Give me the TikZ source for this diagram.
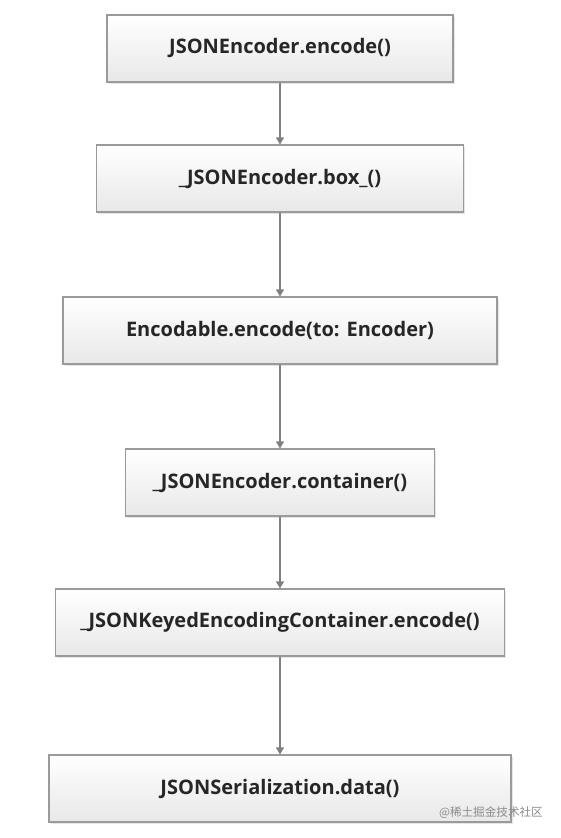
\documentclass[tikz,border=0pt]{standalone}
\usepackage{fontspec}
\setmainfont{Open Sans}
\newfontfamily\cjk{Noto Sans CJK SC}
\usetikzlibrary{arrows.meta,shadows}
\definecolor{bordergray}{HTML}{9A9A9A}
\definecolor{arrowgray}{HTML}{808080}
\begin{document}
\begin{tikzpicture}[x=1pt,y=-1pt,
  flowbox/.style={draw=bordergray,line width=1.2pt,top color=white,bottom color=black!9,
    minimum height=67pt,inner sep=0pt,font=\fontsize{20}{23}\selectfont\bfseries,text=black!85,
    drop shadow={shadow xshift=1.5pt,shadow yshift=-1.5pt,opacity=0.25,fill=black!40}},
  flowarrow/.style={draw=arrowgray,line width=1.2pt,-{Triangle[length=7pt,width=8pt]}}]
\useasboundingbox (0,0) rectangle (560,838);
\fill[white] (0,0) rectangle (560,838);
\node[flowbox,minimum width=346pt] (b1) at (280,48.5) {JSONEncoder.encode()};
\node[flowbox,minimum width=367pt] (b2) at (280,178.5) {\_JSONEncoder.box\_()};
\node[flowbox,minimum width=434pt] (b3) at (280,330.5) {Encodable.encode(to: Encoder)};
\node[flowbox,minimum width=309pt] (b4) at (280,482.5) {\_JSONEncoder.container()};
\node[flowbox,minimum width=449pt] (b5) at (280,622.5) {\_JSONKeyedEncodingContainer.encode()};
\node[flowbox,minimum width=462pt] (b6) at (280,788.5) {JSONSerialization.data()};
\draw[flowarrow] (b1) -- (b2);
\draw[flowarrow] (b2) -- (b3);
\draw[flowarrow] (b3) -- (b4);
\draw[flowarrow] (b4) -- (b5);
\draw[flowarrow] (b5) -- (b6);
\node[text=black!45,font=\cjk\fontsize{11.6}{13}\selectfont,anchor=east,inner sep=0pt] (wm) at (543,813) {@稀土掘金技术社区};
\end{tikzpicture}
\end{document}
